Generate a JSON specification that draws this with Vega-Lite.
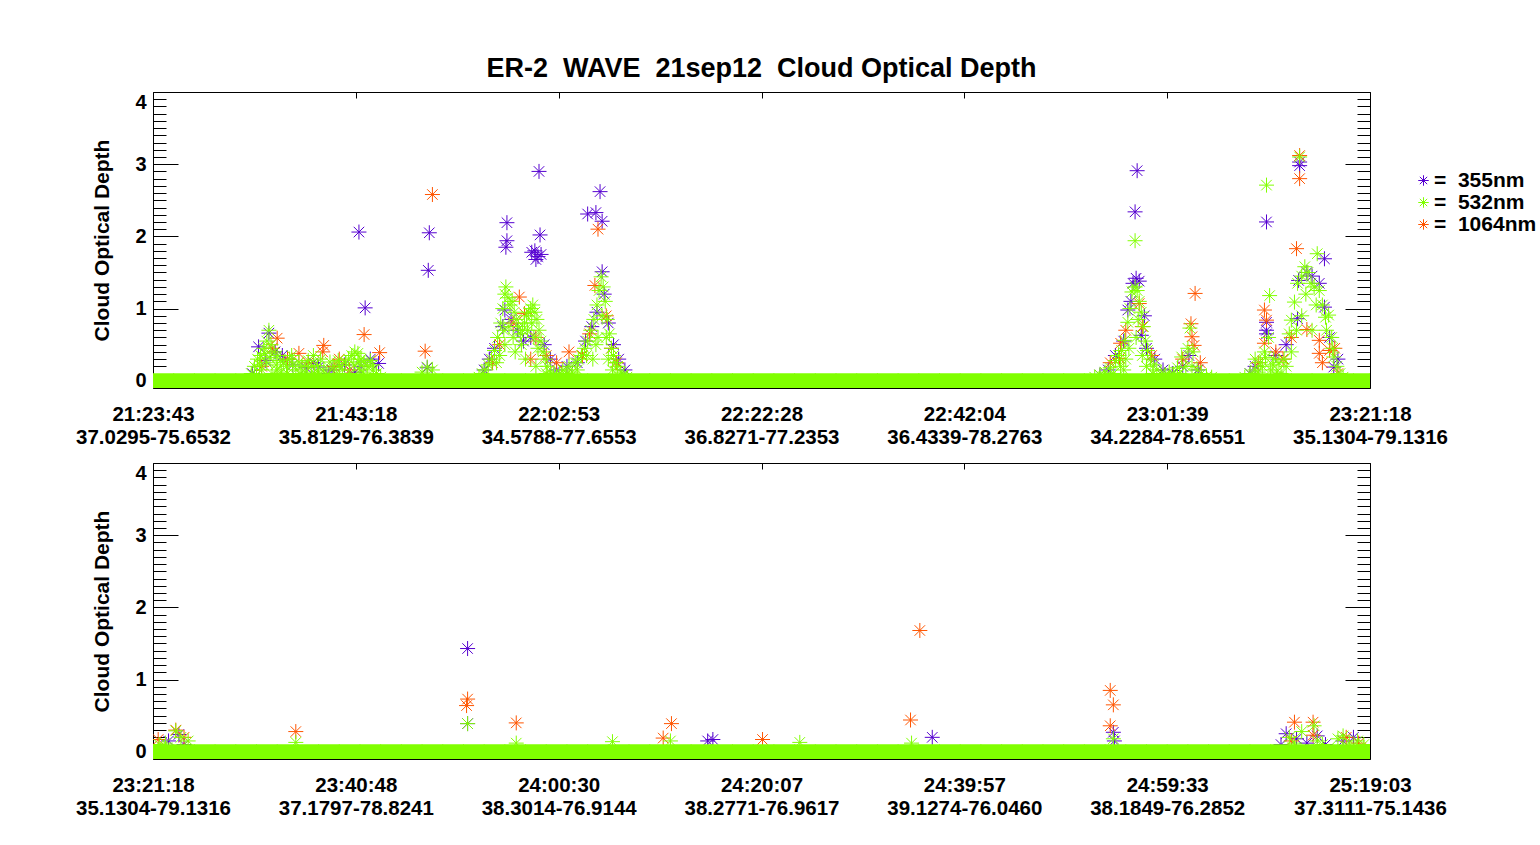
{
"$schema":"https://vega.github.io/schema/vega-lite/v6.json",
"background":"white",
"padding":{"left":75,"top":55,"right":0,"bottom":0},
"config":{"view":{"stroke":null},"font":"Liberation Sans"},
"datasets":{
"top":[
{"m":11.2,"v":0.66,"w":"355nm"},{"m":10.2,"v":0.47,"w":"355nm"},{"m":10.9,"v":0.28,"w":"355nm"},{"m":12.5,"v":0.35,"w":"355nm"},{"m":13.5,"v":0.22,"w":"355nm"},{"m":14.8,"v":0.18,"w":"355nm"},{"m":16.0,"v":0.19,"w":"355nm"},{"m":17.3,"v":0.15,"w":"355nm"},{"m":18.5,"v":0.22,"w":"355nm"},{"m":19.5,"v":0.12,"w":"355nm"},{"m":20.1,"v":0.2,"w":"355nm"},{"m":21.8,"v":0.24,"w":"355nm"},{"m":19.9,"v":2.06,"w":"355nm"},{"m":20.5,"v":1.01,"w":"355nm"},{"m":26.7,"v":2.05,"w":"355nm"},{"m":26.6,"v":1.53,"w":"355nm"},{"m":26.5,"v":0.18,"w":"355nm"},{"m":9.6,"v":0.1,"w":"355nm"},{"m":11.8,"v":0.4,"w":"355nm"},{"m":13.0,"v":0.3,"w":"355nm"},{"m":15.5,"v":0.25,"w":"355nm"},{"m":17.0,"v":0.1,"w":"355nm"},{"m":21.0,"v":0.3,"w":"355nm"},
{"m":37.3,"v":2.9,"w":"355nm"},{"m":34.2,"v":2.19,"w":"355nm"},{"m":34.2,"v":1.94,"w":"355nm"},{"m":34.1,"v":1.85,"w":"355nm"},{"m":37.4,"v":2.02,"w":"355nm"},{"m":36.9,"v":1.8,"w":"355nm"},{"m":37.2,"v":1.72,"w":"355nm"},{"m":37.0,"v":1.68,"w":"355nm"},{"m":37.5,"v":1.75,"w":"355nm"},{"m":36.6,"v":1.78,"w":"355nm"},{"m":43.2,"v":2.62,"w":"355nm"},{"m":42.0,"v":2.31,"w":"355nm"},{"m":42.8,"v":2.33,"w":"355nm"},{"m":43.4,"v":2.21,"w":"355nm"},{"m":43.4,"v":1.51,"w":"355nm"},{"m":34.0,"v":0.98,"w":"355nm"},{"m":33.8,"v":0.75,"w":"355nm"},{"m":34.6,"v":0.85,"w":"355nm"},{"m":35.2,"v":0.7,"w":"355nm"},{"m":33.0,"v":0.45,"w":"355nm"},{"m":32.5,"v":0.3,"w":"355nm"},{"m":35.8,"v":0.55,"w":"355nm"},{"m":36.5,"v":0.6,"w":"355nm"},{"m":37.8,"v":0.5,"w":"355nm"},{"m":38.4,"v":0.3,"w":"355nm"},{"m":39.0,"v":0.15,"w":"355nm"},{"m":40.0,"v":0.2,"w":"355nm"},{"m":41.0,"v":0.25,"w":"355nm"},{"m":41.8,"v":0.55,"w":"355nm"},{"m":42.4,"v":0.75,"w":"355nm"},{"m":42.9,"v":0.95,"w":"355nm"},{"m":43.6,"v":1.2,"w":"355nm"},{"m":44.0,"v":0.8,"w":"355nm"},{"m":44.5,"v":0.5,"w":"355nm"},{"m":45.0,"v":0.3,"w":"355nm"},{"m":45.6,"v":0.15,"w":"355nm"},{"m":32.0,"v":0.15,"w":"355nm"},
{"m":95.1,"v":2.91,"w":"355nm"},{"m":94.9,"v":2.34,"w":"355nm"},{"m":95.0,"v":1.42,"w":"355nm"},{"m":95.3,"v":1.38,"w":"355nm"},{"m":94.7,"v":1.35,"w":"355nm"},{"m":94.2,"v":0.98,"w":"355nm"},{"m":95.5,"v":0.63,"w":"355nm"},{"m":93.8,"v":0.55,"w":"355nm"},{"m":93.0,"v":0.35,"w":"355nm"},{"m":92.3,"v":0.15,"w":"355nm"},{"m":96.0,"v":0.45,"w":"355nm"},{"m":96.8,"v":0.3,"w":"355nm"},{"m":97.6,"v":0.15,"w":"355nm"},{"m":99.5,"v":0.2,"w":"355nm"},{"m":100.1,"v":0.35,"w":"355nm"},{"m":101.0,"v":0.15,"w":"355nm"},{"m":98.5,"v":0.1,"w":"355nm"},{"m":91.5,"v":0.08,"w":"355nm"},{"m":94.5,"v":1.1,"w":"355nm"},{"m":95.8,"v":0.9,"w":"355nm"},
{"m":107.6,"v":2.2,"w":"355nm"},{"m":110.8,"v":3.03,"w":"355nm"},{"m":110.8,"v":2.98,"w":"355nm"},{"m":113.2,"v":1.69,"w":"355nm"},{"m":110.7,"v":1.39,"w":"355nm"},{"m":112.7,"v":1.35,"w":"355nm"},{"m":113.2,"v":1.02,"w":"355nm"},{"m":110.6,"v":0.86,"w":"355nm"},{"m":107.6,"v":0.81,"w":"355nm"},{"m":107.6,"v":0.7,"w":"355nm"},{"m":107.6,"v":0.65,"w":"355nm"},{"m":114.1,"v":0.19,"w":"355nm"},{"m":108.5,"v":0.35,"w":"355nm"},{"m":109.5,"v":0.5,"w":"355nm"},{"m":111.5,"v":1.5,"w":"355nm"},{"m":112.0,"v":1.45,"w":"355nm"},{"m":106.5,"v":0.2,"w":"355nm"},{"m":106.0,"v":0.1,"w":"355nm"},{"m":113.7,"v":0.6,"w":"355nm"},{"m":114.5,"v":0.3,"w":"355nm"},
{"m":12.0,"v":0.59,"w":"1064nm"},{"m":14.1,"v":0.38,"w":"1064nm"},{"m":16.5,"v":0.49,"w":"1064nm"},{"m":16.4,"v":0.4,"w":"1064nm"},{"m":18.0,"v":0.3,"w":"1064nm"},{"m":20.4,"v":0.64,"w":"1064nm"},{"m":21.9,"v":0.39,"w":"1064nm"},{"m":26.3,"v":0.41,"w":"1064nm"},{"m":27.0,"v":2.58,"w":"1064nm"},{"m":11.5,"v":0.45,"w":"1064nm"},{"m":13.0,"v":0.3,"w":"1064nm"},{"m":15.0,"v":0.25,"w":"1064nm"},{"m":17.5,"v":0.2,"w":"1064nm"},{"m":19.0,"v":0.15,"w":"1064nm"},{"m":10.5,"v":0.2,"w":"1064nm"},
{"m":43.0,"v":2.1,"w":"1064nm"},{"m":42.7,"v":1.32,"w":"1064nm"},{"m":35.4,"v":1.16,"w":"1064nm"},{"m":35.9,"v":0.93,"w":"1064nm"},{"m":40.2,"v":0.4,"w":"1064nm"},{"m":38.0,"v":0.35,"w":"1064nm"},{"m":37.0,"v":0.6,"w":"1064nm"},{"m":34.8,"v":0.8,"w":"1064nm"},{"m":33.5,"v":0.5,"w":"1064nm"},{"m":39.0,"v":0.25,"w":"1064nm"},{"m":41.5,"v":0.35,"w":"1064nm"},{"m":42.2,"v":0.65,"w":"1064nm"},{"m":43.8,"v":0.9,"w":"1064nm"},{"m":44.3,"v":0.45,"w":"1064nm"},{"m":44.8,"v":0.25,"w":"1064nm"},{"m":36.5,"v":0.3,"w":"1064nm"},{"m":32.8,"v":0.25,"w":"1064nm"},
{"m":95.3,"v":1.07,"w":"1064nm"},{"m":95.6,"v":0.75,"w":"1064nm"},{"m":93.5,"v":0.52,"w":"1064nm"},{"m":93.4,"v":0.31,"w":"1064nm"},{"m":100.7,"v":1.21,"w":"1064nm"},{"m":100.3,"v":0.79,"w":"1064nm"},{"m":100.4,"v":0.61,"w":"1064nm"},{"m":100.6,"v":0.49,"w":"1064nm"},{"m":92.5,"v":0.25,"w":"1064nm"},{"m":94.0,"v":0.7,"w":"1064nm"},{"m":96.5,"v":0.35,"w":"1064nm"},{"m":99.5,"v":0.3,"w":"1064nm"},{"m":101.2,"v":0.25,"w":"1064nm"},
{"m":110.8,"v":3.12,"w":"1064nm"},{"m":110.8,"v":2.8,"w":"1064nm"},{"m":110.5,"v":1.83,"w":"1064nm"},{"m":111.5,"v":0.71,"w":"1064nm"},{"m":107.4,"v":0.98,"w":"1064nm"},{"m":107.6,"v":0.84,"w":"1064nm"},{"m":107.4,"v":0.52,"w":"1064nm"},{"m":112.7,"v":0.56,"w":"1064nm"},{"m":112.7,"v":0.38,"w":"1064nm"},{"m":113.7,"v":0.42,"w":"1064nm"},{"m":114.5,"v":0.1,"w":"1064nm"},{"m":108.5,"v":0.4,"w":"1064nm"},{"m":109.2,"v":0.3,"w":"1064nm"},{"m":106.8,"v":0.25,"w":"1064nm"},{"m":110.0,"v":0.6,"w":"1064nm"},{"m":113.0,"v":0.25,"w":"1064nm"},{"m":114.2,"v":0.45,"w":"1064nm"},
{"m":9.5,"v":0.1,"w":"532nm"},{"m":9.8,"v":0.2,"w":"532nm"},{"m":10.1,"v":0.3,"w":"532nm"},{"m":10.4,"v":0.35,"w":"532nm"},{"m":10.7,"v":0.45,"w":"532nm"},{"m":11.0,"v":0.55,"w":"532nm"},{"m":11.2,"v":0.7,"w":"532nm"},{"m":11.4,"v":0.5,"w":"532nm"},{"m":11.7,"v":0.4,"w":"532nm"},{"m":12.0,"v":0.35,"w":"532nm"},{"m":12.3,"v":0.28,"w":"532nm"},{"m":12.6,"v":0.25,"w":"532nm"},{"m":12.9,"v":0.2,"w":"532nm"},{"m":13.2,"v":0.3,"w":"532nm"},{"m":13.5,"v":0.22,"w":"532nm"},{"m":13.8,"v":0.15,"w":"532nm"},{"m":14.1,"v":0.26,"w":"532nm"},{"m":14.4,"v":0.2,"w":"532nm"},{"m":14.7,"v":0.12,"w":"532nm"},{"m":15.0,"v":0.28,"w":"532nm"},{"m":15.3,"v":0.2,"w":"532nm"},{"m":15.6,"v":0.1,"w":"532nm"},{"m":15.9,"v":0.21,"w":"532nm"},{"m":16.2,"v":0.3,"w":"532nm"},{"m":16.5,"v":0.15,"w":"532nm"},{"m":16.8,"v":0.08,"w":"532nm"},{"m":17.1,"v":0.26,"w":"532nm"},{"m":17.4,"v":0.18,"w":"532nm"},{"m":17.7,"v":0.1,"w":"532nm"},{"m":18.0,"v":0.21,"w":"532nm"},{"m":18.3,"v":0.15,"w":"532nm"},{"m":18.6,"v":0.25,"w":"532nm"},{"m":18.9,"v":0.3,"w":"532nm"},{"m":19.2,"v":0.35,"w":"532nm"},{"m":19.5,"v":0.4,"w":"532nm"},{"m":19.8,"v":0.38,"w":"532nm"},{"m":20.1,"v":0.3,"w":"532nm"},{"m":20.4,"v":0.25,"w":"532nm"},{"m":20.7,"v":0.2,"w":"532nm"},{"m":21.0,"v":0.28,"w":"532nm"},{"m":21.3,"v":0.15,"w":"532nm"},{"m":21.6,"v":0.1,"w":"532nm"},{"m":22.0,"v":0.05,"w":"532nm"},{"m":10.5,"v":0.15,"w":"532nm"},{"m":11.0,"v":0.25,"w":"532nm"},{"m":12.0,"v":0.15,"w":"532nm"},{"m":13.0,"v":0.1,"w":"532nm"},{"m":15.5,"v":0.35,"w":"532nm"},{"m":19.0,"v":0.1,"w":"532nm"},{"m":20.0,"v":0.15,"w":"532nm"},{"m":10.0,"v":0.08,"w":"532nm"},{"m":11.5,"v":0.1,"w":"532nm"},{"m":26.5,"v":0.19,"w":"532nm"},{"m":26.0,"v":0.12,"w":"532nm"},{"m":27.0,"v":0.15,"w":"532nm"},
{"m":10.3,"v":0.22,"w":"532nm"},{"m":10.8,"v":0.38,"w":"532nm"},{"m":11.3,"v":0.32,"w":"532nm"},{"m":11.9,"v":0.22,"w":"532nm"},{"m":12.4,"v":0.12,"w":"532nm"},{"m":13.4,"v":0.35,"w":"532nm"},{"m":14.3,"v":0.1,"w":"532nm"},{"m":14.9,"v":0.2,"w":"532nm"},{"m":16.0,"v":0.12,"w":"532nm"},{"m":17.9,"v":0.28,"w":"532nm"},{"m":19.4,"v":0.22,"w":"532nm"},{"m":19.9,"v":0.26,"w":"532nm"},{"m":20.3,"v":0.12,"w":"532nm"},{"m":21.2,"v":0.22,"w":"532nm"},
{"m":31.5,"v":0.05,"w":"532nm"},{"m":31.8,"v":0.1,"w":"532nm"},{"m":32.1,"v":0.15,"w":"532nm"},{"m":32.4,"v":0.22,"w":"532nm"},{"m":32.7,"v":0.3,"w":"532nm"},{"m":33.0,"v":0.42,"w":"532nm"},{"m":33.3,"v":0.6,"w":"532nm"},{"m":33.6,"v":0.8,"w":"532nm"},{"m":33.8,"v":1.0,"w":"532nm"},{"m":34.0,"v":1.2,"w":"532nm"},{"m":34.1,"v":1.3,"w":"532nm"},{"m":34.3,"v":1.15,"w":"532nm"},{"m":34.5,"v":1.05,"w":"532nm"},{"m":34.7,"v":1.1,"w":"532nm"},{"m":34.9,"v":0.95,"w":"532nm"},{"m":35.1,"v":0.85,"w":"532nm"},{"m":35.3,"v":0.75,"w":"532nm"},{"m":35.5,"v":0.65,"w":"532nm"},{"m":35.7,"v":0.7,"w":"532nm"},{"m":35.9,"v":0.8,"w":"532nm"},{"m":36.1,"v":0.9,"w":"532nm"},{"m":36.3,"v":0.95,"w":"532nm"},{"m":36.5,"v":1.0,"w":"532nm"},{"m":36.7,"v":1.05,"w":"532nm"},{"m":36.9,"v":0.95,"w":"532nm"},{"m":37.1,"v":0.85,"w":"532nm"},{"m":37.3,"v":0.7,"w":"532nm"},{"m":37.5,"v":0.55,"w":"532nm"},{"m":37.7,"v":0.4,"w":"532nm"},{"m":37.9,"v":0.3,"w":"532nm"},{"m":38.1,"v":0.2,"w":"532nm"},{"m":38.4,"v":0.12,"w":"532nm"},{"m":38.7,"v":0.08,"w":"532nm"},{"m":39.0,"v":0.05,"w":"532nm"},{"m":39.3,"v":0.1,"w":"532nm"},{"m":39.6,"v":0.15,"w":"532nm"},{"m":39.9,"v":0.08,"w":"532nm"},{"m":40.2,"v":0.2,"w":"532nm"},{"m":40.5,"v":0.12,"w":"532nm"},{"m":40.8,"v":0.25,"w":"532nm"},{"m":41.1,"v":0.3,"w":"532nm"},{"m":41.4,"v":0.35,"w":"532nm"},{"m":41.7,"v":0.45,"w":"532nm"},{"m":42.0,"v":0.55,"w":"532nm"},{"m":42.3,"v":0.7,"w":"532nm"},{"m":42.6,"v":0.85,"w":"532nm"},{"m":42.9,"v":1.05,"w":"532nm"},{"m":43.1,"v":1.25,"w":"532nm"},{"m":43.3,"v":1.44,"w":"532nm"},{"m":43.5,"v":1.3,"w":"532nm"},{"m":43.7,"v":1.1,"w":"532nm"},{"m":43.9,"v":0.85,"w":"532nm"},{"m":44.1,"v":0.65,"w":"532nm"},{"m":44.3,"v":0.45,"w":"532nm"},{"m":44.5,"v":0.35,"w":"532nm"},{"m":44.7,"v":0.25,"w":"532nm"},{"m":44.9,"v":0.2,"w":"532nm"},{"m":45.2,"v":0.12,"w":"532nm"},{"m":45.5,"v":0.08,"w":"532nm"},{"m":45.8,"v":0.05,"w":"532nm"},{"m":33.5,"v":0.35,"w":"532nm"},{"m":34.0,"v":0.5,"w":"532nm"},{"m":35.0,"v":0.4,"w":"532nm"},{"m":36.0,"v":0.3,"w":"532nm"},{"m":37.0,"v":0.2,"w":"532nm"},{"m":42.5,"v":0.3,"w":"532nm"},{"m":43.0,"v":0.6,"w":"532nm"},{"m":44.0,"v":0.3,"w":"532nm"},{"m":33.9,"v":0.7,"w":"532nm"},{"m":36.8,"v":0.6,"w":"532nm"},
{"m":33.2,"v":0.25,"w":"532nm"},{"m":34.4,"v":0.75,"w":"532nm"},{"m":34.8,"v":0.6,"w":"532nm"},{"m":35.6,"v":0.5,"w":"532nm"},{"m":36.2,"v":0.7,"w":"532nm"},{"m":36.6,"v":0.8,"w":"532nm"},{"m":37.2,"v":0.45,"w":"532nm"},{"m":38.0,"v":0.1,"w":"532nm"},{"m":40.0,"v":0.1,"w":"532nm"},{"m":41.0,"v":0.15,"w":"532nm"},{"m":41.9,"v":0.35,"w":"532nm"},{"m":42.8,"v":0.5,"w":"532nm"},{"m":43.4,"v":0.9,"w":"532nm"},{"m":43.8,"v":0.6,"w":"532nm"},{"m":44.4,"v":0.15,"w":"532nm"},
{"m":91.0,"v":0.05,"w":"532nm"},{"m":91.5,"v":0.08,"w":"532nm"},{"m":92.0,"v":0.12,"w":"532nm"},{"m":92.5,"v":0.18,"w":"532nm"},{"m":93.0,"v":0.28,"w":"532nm"},{"m":93.3,"v":0.35,"w":"532nm"},{"m":93.6,"v":0.42,"w":"532nm"},{"m":93.9,"v":0.56,"w":"532nm"},{"m":94.2,"v":0.81,"w":"532nm"},{"m":94.4,"v":1.0,"w":"532nm"},{"m":94.6,"v":1.23,"w":"532nm"},{"m":94.9,"v":1.3,"w":"532nm"},{"m":95.1,"v":1.25,"w":"532nm"},{"m":95.3,"v":1.1,"w":"532nm"},{"m":95.5,"v":0.95,"w":"532nm"},{"m":95.7,"v":0.75,"w":"532nm"},{"m":95.9,"v":0.55,"w":"532nm"},{"m":96.1,"v":0.42,"w":"532nm"},{"m":96.4,"v":0.3,"w":"532nm"},{"m":96.7,"v":0.22,"w":"532nm"},{"m":97.0,"v":0.15,"w":"532nm"},{"m":97.4,"v":0.1,"w":"532nm"},{"m":97.8,"v":0.08,"w":"532nm"},{"m":98.2,"v":0.12,"w":"532nm"},{"m":98.6,"v":0.1,"w":"532nm"},{"m":99.0,"v":0.18,"w":"532nm"},{"m":99.4,"v":0.33,"w":"532nm"},{"m":99.8,"v":0.2,"w":"532nm"},{"m":100.2,"v":0.73,"w":"532nm"},{"m":100.5,"v":0.4,"w":"532nm"},{"m":100.9,"v":0.15,"w":"532nm"},{"m":101.3,"v":0.1,"w":"532nm"},{"m":101.8,"v":0.06,"w":"532nm"},{"m":102.3,"v":0.05,"w":"532nm"},{"m":94.9,"v":1.94,"w":"532nm"},{"m":93.5,"v":0.2,"w":"532nm"},{"m":94.0,"v":0.3,"w":"532nm"},{"m":95.0,"v":0.6,"w":"532nm"},{"m":96.0,"v":0.2,"w":"532nm"},
{"m":92.8,"v":0.1,"w":"532nm"},{"m":93.8,"v":0.15,"w":"532nm"},{"m":94.3,"v":0.45,"w":"532nm"},{"m":95.2,"v":0.85,"w":"532nm"},{"m":95.6,"v":0.35,"w":"532nm"},{"m":96.6,"v":0.1,"w":"532nm"},{"m":99.2,"v":0.1,"w":"532nm"},{"m":100.0,"v":0.45,"w":"532nm"},{"m":100.4,"v":0.2,"w":"532nm"},
{"m":105.5,"v":0.05,"w":"532nm"},{"m":106.0,"v":0.1,"w":"532nm"},{"m":106.5,"v":0.15,"w":"532nm"},{"m":107.0,"v":0.25,"w":"532nm"},{"m":107.4,"v":0.4,"w":"532nm"},{"m":107.6,"v":2.71,"w":"532nm"},{"m":107.9,"v":1.18,"w":"532nm"},{"m":107.8,"v":0.6,"w":"532nm"},{"m":108.3,"v":0.3,"w":"532nm"},{"m":108.8,"v":0.25,"w":"532nm"},{"m":109.3,"v":0.3,"w":"532nm"},{"m":109.8,"v":0.65,"w":"532nm"},{"m":110.0,"v":0.84,"w":"532nm"},{"m":110.3,"v":1.09,"w":"532nm"},{"m":110.6,"v":1.35,"w":"532nm"},{"m":110.8,"v":3.1,"w":"532nm"},{"m":111.0,"v":1.45,"w":"532nm"},{"m":111.3,"v":1.58,"w":"532nm"},{"m":111.6,"v":1.5,"w":"532nm"},{"m":111.9,"v":1.35,"w":"532nm"},{"m":112.2,"v":1.3,"w":"532nm"},{"m":112.5,"v":1.76,"w":"532nm"},{"m":112.7,"v":1.25,"w":"532nm"},{"m":113.0,"v":1.05,"w":"532nm"},{"m":113.3,"v":0.88,"w":"532nm"},{"m":113.6,"v":0.91,"w":"532nm"},{"m":113.9,"v":0.6,"w":"532nm"},{"m":114.1,"v":0.33,"w":"532nm"},{"m":114.4,"v":0.2,"w":"532nm"},{"m":114.7,"v":0.1,"w":"532nm"},{"m":115.0,"v":0.05,"w":"532nm"},{"m":106.5,"v":0.3,"w":"532nm"},{"m":107.2,"v":0.2,"w":"532nm"},{"m":108.0,"v":0.15,"w":"532nm"},{"m":109.0,"v":0.1,"w":"532nm"},{"m":110.0,"v":0.4,"w":"532nm"},{"m":111.0,"v":0.9,"w":"532nm"},{"m":112.0,"v":0.7,"w":"532nm"},
{"m":106.8,"v":0.12,"w":"532nm"},{"m":107.5,"v":0.32,"w":"532nm"},{"m":108.2,"v":0.22,"w":"532nm"},{"m":108.6,"v":0.12,"w":"532nm"},{"m":109.5,"v":0.2,"w":"532nm"},{"m":110.5,"v":0.7,"w":"532nm"},{"m":111.4,"v":1.2,"w":"532nm"},{"m":112.4,"v":1.05,"w":"532nm"},{"m":113.4,"v":0.7,"w":"532nm"},{"m":114.0,"v":0.45,"w":"532nm"},
{"m":0,"v":0,"w":"532nm"},{"m":2,"v":0,"w":"532nm"},{"m":4,"v":0,"w":"532nm"},{"m":6,"v":0,"w":"532nm"},{"m":8,"v":0,"w":"532nm"},{"m":10,"v":0,"w":"532nm"},{"m":12,"v":0,"w":"532nm"},{"m":14,"v":0,"w":"532nm"},{"m":16,"v":0,"w":"532nm"},{"m":18,"v":0,"w":"532nm"},{"m":20,"v":0,"w":"532nm"},{"m":22,"v":0,"w":"532nm"},{"m":24,"v":0,"w":"532nm"},{"m":26,"v":0,"w":"532nm"},{"m":28,"v":0,"w":"532nm"},{"m":30,"v":0,"w":"532nm"},{"m":32,"v":0,"w":"532nm"},{"m":34,"v":0,"w":"532nm"},{"m":36,"v":0,"w":"532nm"},{"m":38,"v":0,"w":"532nm"},{"m":40,"v":0,"w":"532nm"},{"m":42,"v":0,"w":"532nm"},{"m":44,"v":0,"w":"532nm"},{"m":46,"v":0,"w":"532nm"},{"m":48,"v":0,"w":"532nm"},{"m":50,"v":0,"w":"532nm"},{"m":52,"v":0,"w":"532nm"},{"m":54,"v":0,"w":"532nm"},{"m":56,"v":0,"w":"532nm"},{"m":58,"v":0,"w":"532nm"},{"m":60,"v":0,"w":"532nm"},{"m":62,"v":0,"w":"532nm"},{"m":64,"v":0,"w":"532nm"},{"m":66,"v":0,"w":"532nm"},{"m":68,"v":0,"w":"532nm"},{"m":70,"v":0,"w":"532nm"},{"m":72,"v":0,"w":"532nm"},{"m":74,"v":0,"w":"532nm"},{"m":76,"v":0,"w":"532nm"},{"m":78,"v":0,"w":"532nm"},{"m":80,"v":0,"w":"532nm"},{"m":82,"v":0,"w":"532nm"},{"m":84,"v":0,"w":"532nm"},{"m":86,"v":0,"w":"532nm"},{"m":88,"v":0,"w":"532nm"},{"m":90,"v":0,"w":"532nm"},{"m":92,"v":0,"w":"532nm"},{"m":94,"v":0,"w":"532nm"},{"m":96,"v":0,"w":"532nm"},{"m":98,"v":0,"w":"532nm"},{"m":100,"v":0,"w":"532nm"},{"m":102,"v":0,"w":"532nm"},{"m":104,"v":0,"w":"532nm"},{"m":106,"v":0,"w":"532nm"},{"m":108,"v":0,"w":"532nm"},{"m":110,"v":0,"w":"532nm"},{"m":112,"v":0,"w":"532nm"},{"m":114,"v":0,"w":"532nm"},{"m":116,"v":0,"w":"532nm"},{"m":117.6,"v":0,"w":"532nm"}
],
"bot":[
{"m":30.4,"v":1.43,"w":"355nm"},{"m":30.4,"v":0.39,"w":"355nm"},{"m":2.5,"v":0.24,"w":"355nm"},{"m":53.6,"v":0.15,"w":"355nm"},{"m":54.1,"v":0.17,"w":"355nm"},{"m":75.3,"v":0.2,"w":"355nm"},{"m":92.8,"v":0.27,"w":"355nm"},{"m":92.9,"v":0.15,"w":"355nm"},{"m":109.5,"v":0.25,"w":"355nm"},{"m":110.5,"v":0.18,"w":"355nm"},{"m":111.5,"v":0.12,"w":"355nm"},{"m":112.5,"v":0.22,"w":"355nm"},{"m":113.3,"v":0.1,"w":"355nm"},{"m":115.0,"v":0.15,"w":"355nm"},{"m":116.0,"v":0.2,"w":"355nm"},{"m":1.5,"v":0.15,"w":"355nm"},{"m":3.0,"v":0.1,"w":"355nm"},{"m":109.0,"v":0.1,"w":"355nm"},
{"m":30.4,"v":0.73,"w":"1064nm"},{"m":30.3,"v":0.64,"w":"1064nm"},{"m":13.8,"v":0.28,"w":"1064nm"},{"m":35.1,"v":0.4,"w":"1064nm"},{"m":50.1,"v":0.39,"w":"1064nm"},{"m":49.3,"v":0.19,"w":"1064nm"},{"m":58.9,"v":0.17,"w":"1064nm"},{"m":73.2,"v":0.44,"w":"1064nm"},{"m":74.1,"v":1.68,"w":"1064nm"},{"m":92.5,"v":0.85,"w":"1064nm"},{"m":92.8,"v":0.65,"w":"1064nm"},{"m":92.5,"v":0.36,"w":"1064nm"},{"m":110.3,"v":0.41,"w":"1064nm"},{"m":112.1,"v":0.41,"w":"1064nm"},{"m":112.1,"v":0.23,"w":"1064nm"},{"m":115.3,"v":0.2,"w":"1064nm"},{"m":0.5,"v":0.17,"w":"1064nm"},{"m":2.2,"v":0.3,"w":"1064nm"},{"m":3.0,"v":0.2,"w":"1064nm"},{"m":116.5,"v":0.12,"w":"1064nm"},{"m":110.0,"v":0.15,"w":"1064nm"},
{"m":30.4,"v":0.39,"w":"532nm"},{"m":13.8,"v":0.13,"w":"532nm"},{"m":35.1,"v":0.12,"w":"532nm"},{"m":44.4,"v":0.14,"w":"532nm"},{"m":50.0,"v":0.15,"w":"532nm"},{"m":62.5,"v":0.13,"w":"532nm"},{"m":73.3,"v":0.12,"w":"532nm"},{"m":92.8,"v":0.18,"w":"532nm"},{"m":2.2,"v":0.29,"w":"532nm"},{"m":2.7,"v":0.2,"w":"532nm"},{"m":3.4,"v":0.15,"w":"532nm"},{"m":1.2,"v":0.12,"w":"532nm"},{"m":0.6,"v":0.1,"w":"532nm"},{"m":109.8,"v":0.2,"w":"532nm"},{"m":110.3,"v":0.12,"w":"532nm"},{"m":111.0,"v":0.28,"w":"532nm"},{"m":112.2,"v":0.36,"w":"532nm"},{"m":112.5,"v":0.15,"w":"532nm"},{"m":113.0,"v":0.1,"w":"532nm"},{"m":114.5,"v":0.18,"w":"532nm"},{"m":115.0,"v":0.22,"w":"532nm"},{"m":115.6,"v":0.12,"w":"532nm"},{"m":116.4,"v":0.15,"w":"532nm"},{"m":117.0,"v":0.1,"w":"532nm"},
{"m":0,"v":0,"w":"532nm"},{"m":2,"v":0,"w":"532nm"},{"m":4,"v":0,"w":"532nm"},{"m":6,"v":0,"w":"532nm"},{"m":8,"v":0,"w":"532nm"},{"m":10,"v":0,"w":"532nm"},{"m":12,"v":0,"w":"532nm"},{"m":14,"v":0,"w":"532nm"},{"m":16,"v":0,"w":"532nm"},{"m":18,"v":0,"w":"532nm"},{"m":20,"v":0,"w":"532nm"},{"m":22,"v":0,"w":"532nm"},{"m":24,"v":0,"w":"532nm"},{"m":26,"v":0,"w":"532nm"},{"m":28,"v":0,"w":"532nm"},{"m":30,"v":0,"w":"532nm"},{"m":32,"v":0,"w":"532nm"},{"m":34,"v":0,"w":"532nm"},{"m":36,"v":0,"w":"532nm"},{"m":38,"v":0,"w":"532nm"},{"m":40,"v":0,"w":"532nm"},{"m":42,"v":0,"w":"532nm"},{"m":44,"v":0,"w":"532nm"},{"m":46,"v":0,"w":"532nm"},{"m":48,"v":0,"w":"532nm"},{"m":50,"v":0,"w":"532nm"},{"m":52,"v":0,"w":"532nm"},{"m":54,"v":0,"w":"532nm"},{"m":56,"v":0,"w":"532nm"},{"m":58,"v":0,"w":"532nm"},{"m":60,"v":0,"w":"532nm"},{"m":62,"v":0,"w":"532nm"},{"m":64,"v":0,"w":"532nm"},{"m":66,"v":0,"w":"532nm"},{"m":68,"v":0,"w":"532nm"},{"m":70,"v":0,"w":"532nm"},{"m":72,"v":0,"w":"532nm"},{"m":74,"v":0,"w":"532nm"},{"m":76,"v":0,"w":"532nm"},{"m":78,"v":0,"w":"532nm"},{"m":80,"v":0,"w":"532nm"},{"m":82,"v":0,"w":"532nm"},{"m":84,"v":0,"w":"532nm"},{"m":86,"v":0,"w":"532nm"},{"m":88,"v":0,"w":"532nm"},{"m":90,"v":0,"w":"532nm"},{"m":92,"v":0,"w":"532nm"},{"m":94,"v":0,"w":"532nm"},{"m":96,"v":0,"w":"532nm"},{"m":98,"v":0,"w":"532nm"},{"m":100,"v":0,"w":"532nm"},{"m":102,"v":0,"w":"532nm"},{"m":104,"v":0,"w":"532nm"},{"m":106,"v":0,"w":"532nm"},{"m":108,"v":0,"w":"532nm"},{"m":110,"v":0,"w":"532nm"},{"m":112,"v":0,"w":"532nm"},{"m":114,"v":0,"w":"532nm"},{"m":116,"v":0,"w":"532nm"},{"m":117.6,"v":0,"w":"532nm"}
]
},
"spacing":12,
"resolve":{"scale":{"x":"independent","y":"independent","color":"independent"},"legend":{"color":"independent"}},
"vconcat":[
{
"width":1217,"height":296,
"data":{"name":"top"},
"title":{"text":"ER-2\u00a0 WAVE\u00a0 21sep12\u00a0 Cloud Optical Depth","font":"Liberation Sans","fontSize":27,"fontWeight":"bold","color":"black","anchor":"middle","frame":"group","offset":6},
"layer":[
{"mark":{"type":"point","shape":"M-1,0H1M0,-1V1M-0.7,-0.7L0.7,0.7M-0.7,0.7L0.7,-0.7","filled":false,"size":225,"strokeWidth":1,"opacity":1,"clip":true},
"encoding":{
"x":{"field":"m","type":"quantitative","scale":{"domain":[0,117.6],"nice":false,"zero":false},
"axis":{"orient":"bottom","title":null,"values":[0,19.6,39.2,58.8,78.4,98,117.6],"labelExpr":"[['21:23:43','37.0295-75.6532'],['21:43:18','35.8129-76.3839'],['22:02:53','34.5788-77.6553'],['22:22:28','36.8271-77.2353'],['22:42:04','36.4339-78.2763'],['23:01:39','34.2284-78.6551'],['23:21:18','35.1304-79.1316']][round(datum.value/19.6)]","tickSize":-6,"tickColor":"black","domainColor":"black","grid":false,"labelFont":"Liberation Sans","labelFontSize":20.5,"labelFontWeight":"bold","labelColor":"black","labelBaseline":"top","labelLineHeight":23.5,"labelPadding":22,"labelOverlap":false,"labelFlush":false,"labelBound":false}},
"y":{"field":"v","type":"quantitative","scale":{"domain":[-0.1,4],"nice":false,"zero":false},
"axis":{"orient":"left","title":"Cloud Optical Depth","values":[0,0.1,0.2,0.3,0.4,0.5,0.6,0.7,0.8,0.9,1,1.1,1.2,1.3,1.4,1.5,1.6,1.7,1.8,1.9,2,2.1,2.2,2.3,2.4,2.5,2.6,2.7,2.8,2.9,3,3.1,3.2,3.3,3.4,3.5,3.6,3.7,3.8,3.9,4],"labelExpr":"abs(datum.value-round(datum.value))<0.01 ? format(round(datum.value),'d') : ''","tickSize":{"condition":{"test":"abs(datum.value-round(datum.value))<0.01","value":-25},"value":-13},"tickColor":"black","domainColor":"black","grid":false,"labelFont":"Liberation Sans","labelFontSize":20,"labelFontWeight":"bold","labelColor":"black","labelPadding":32,"labelBaseline":{"condition":{"test":"datum.value>3.99","value":"top"},"value":"middle"},"labelOverlap":false,"labelFlush":false,"labelBound":false,"titleFont":"Liberation Sans","titleFontSize":21,"titleFontWeight":"bold","titleColor":"black","titlePadding":22}},
"color":{"field":"w","type":"nominal","scale":{"domain":["355nm","532nm","1064nm"],"range":["#5500d0","#80ff00","#ff5500"]},
"legend":{"orient":"none","legendX":1260,"legendY":78,"title":null,"symbolType":"M-1,0H1M0,-1V1M-0.7,-0.7L0.7,0.7M-0.7,0.7L0.7,-0.7","symbolSize":110,"symbolStrokeWidth":1,"labelFont":"Liberation Sans","labelFontSize":21,"labelFontWeight":"bold","labelColor":"black","rowPadding":0,"labelOffset":0,"labelLimit":300,"labelExpr":"'=\u00a0\u00a0' + datum.label"}}
}},
{"transform":[{"filter":"datum.v == 0"}],
"mark":{"type":"line","color":"#80ff00","strokeWidth":15,"strokeCap":"butt","clip":true},
"encoding":{
"x":{"field":"m","type":"quantitative","axis":{"orient":"top","title":null,"labels":false,"values":[0,19.6,39.2,58.8,78.4,98,117.6],"tickSize":-6,"tickColor":"black","domainColor":"black","grid":false}},
"y":{"field":"v","type":"quantitative","axis":{"orient":"right","title":null,"labels":false,"values":[0,0.1,0.2,0.3,0.4,0.5,0.6,0.7,0.8,0.9,1,1.1,1.2,1.3,1.4,1.5,1.6,1.7,1.8,1.9,2,2.1,2.2,2.3,2.4,2.5,2.6,2.7,2.8,2.9,3,3.1,3.2,3.3,3.4,3.5,3.6,3.7,3.8,3.9,4],"tickSize":{"condition":{"test":"abs(datum.value-round(datum.value))<0.01","value":-25},"value":-13},"tickColor":"black","domainColor":"black","grid":false}}
}}
],
"resolve":{"axis":{"x":"independent","y":"independent"}}
},
{
"width":1217,"height":296,
"data":{"name":"bot"},
"layer":[
{"mark":{"type":"point","shape":"M-1,0H1M0,-1V1M-0.7,-0.7L0.7,0.7M-0.7,0.7L0.7,-0.7","filled":false,"size":225,"strokeWidth":1,"opacity":1,"clip":true},
"encoding":{
"x":{"field":"m","type":"quantitative","scale":{"domain":[0,117.6],"nice":false,"zero":false},
"axis":{"orient":"bottom","title":null,"values":[0,19.6,39.2,58.8,78.4,98,117.6],"labelExpr":"[['23:21:18','35.1304-79.1316'],['23:40:48','37.1797-78.8241'],['24:00:30','38.3014-76.9144'],['24:20:07','38.2771-76.9617'],['24:39:57','39.1274-76.0460'],['24:59:33','38.1849-76.2852'],['25:19:03','37.3111-75.1436']][round(datum.value/19.6)]","tickSize":-6,"tickColor":"black","domainColor":"black","grid":false,"labelFont":"Liberation Sans","labelFontSize":20.5,"labelFontWeight":"bold","labelColor":"black","labelBaseline":"top","labelLineHeight":23.5,"labelPadding":22,"labelOverlap":false,"labelFlush":false,"labelBound":false}},
"y":{"field":"v","type":"quantitative","scale":{"domain":[-0.1,4],"nice":false,"zero":false},
"axis":{"orient":"left","title":"Cloud Optical Depth","values":[0,0.1,0.2,0.3,0.4,0.5,0.6,0.7,0.8,0.9,1,1.1,1.2,1.3,1.4,1.5,1.6,1.7,1.8,1.9,2,2.1,2.2,2.3,2.4,2.5,2.6,2.7,2.8,2.9,3,3.1,3.2,3.3,3.4,3.5,3.6,3.7,3.8,3.9,4],"labelExpr":"abs(datum.value-round(datum.value))<0.01 ? format(round(datum.value),'d') : ''","tickSize":{"condition":{"test":"abs(datum.value-round(datum.value))<0.01","value":-25},"value":-13},"tickColor":"black","domainColor":"black","grid":false,"labelFont":"Liberation Sans","labelFontSize":20,"labelFontWeight":"bold","labelColor":"black","labelPadding":32,"labelBaseline":{"condition":{"test":"datum.value>3.99","value":"top"},"value":"middle"},"labelOverlap":false,"labelFlush":false,"labelBound":false,"titleFont":"Liberation Sans","titleFontSize":21,"titleFontWeight":"bold","titleColor":"black","titlePadding":22}},
"color":{"field":"w","type":"nominal","scale":{"domain":["355nm","532nm","1064nm"],"range":["#5500d0","#80ff00","#ff5500"]},"legend":null}
}},
{"transform":[{"filter":"datum.v == 0"}],
"mark":{"type":"line","color":"#80ff00","strokeWidth":15,"strokeCap":"butt","clip":true},
"encoding":{
"x":{"field":"m","type":"quantitative","axis":{"orient":"top","title":null,"labels":false,"values":[0,19.6,39.2,58.8,78.4,98,117.6],"tickSize":-6,"tickColor":"black","domainColor":"black","grid":false}},
"y":{"field":"v","type":"quantitative","axis":{"orient":"right","title":null,"labels":false,"values":[0,0.1,0.2,0.3,0.4,0.5,0.6,0.7,0.8,0.9,1,1.1,1.2,1.3,1.4,1.5,1.6,1.7,1.8,1.9,2,2.1,2.2,2.3,2.4,2.5,2.6,2.7,2.8,2.9,3,3.1,3.2,3.3,3.4,3.5,3.6,3.7,3.8,3.9,4],"tickSize":{"condition":{"test":"abs(datum.value-round(datum.value))<0.01","value":-25},"value":-13},"tickColor":"black","domainColor":"black","grid":false}}
}}
],
"resolve":{"axis":{"x":"independent","y":"independent"}}
}
]
}
